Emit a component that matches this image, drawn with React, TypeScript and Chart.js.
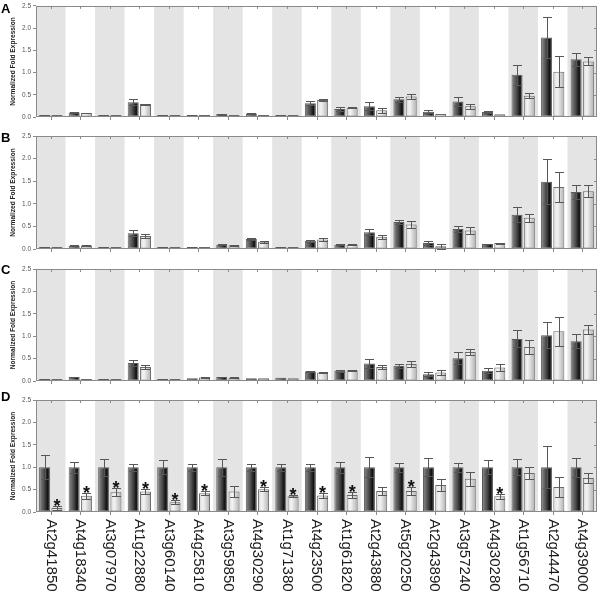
import React, { useEffect, useRef } from 'react';
import { Chart, registerables } from 'chart.js';
Chart.register(...registerables);

const genes = ['At2g41850','At4g18340','At3g07970','At1g22880','At3g60140','At4g25810','At3g59850','At4g30290','At1g71380','At4g23500','At1g61820','At2g43880','At5g20250','At2g43890','At3g57240','At4g30280','At1g56710','At2g44470','At4g39000'];
const yTicks = [0, 0.5, 1.0, 1.5, 2.0, 2.5];
const yTitle = 'Normalized Fold Expression';
const panelLetters = ['A', 'B', 'C', 'D'];

const aDark = [0.01,0.10,0.005,0.33,0.02,0.02,0.065,0.08,0.02,0.31,0.18,0.24,0.40,0.12,0.35,0.11,0.95,1.79,1.30];
const aDarkErr = [0,0.01,0,0.07,0.005,0.005,0.01,0.01,0.005,0.05,0.04,0.09,0.06,0.03,0.10,0.015,0.22,0.47,0.15];
const aLight = [0.01,0.09,0.005,0.29,0.015,0.02,0.03,0.04,0.01,0.38,0.21,0.15,0.46,0.07,0.24,0.06,0.48,1.02,1.25];
const aLightErr = [0,0.01,0,0.01,0.005,0.005,0.005,0.005,0.005,0.03,0.01,0.05,0.05,0.005,0.05,0.005,0.05,0.35,0.09];

const bDark = [0.005,0.07,0.005,0.35,0.02,0.03,0.095,0.22,0.02,0.18,0.095,0.37,0.60,0.13,0.44,0.11,0.76,1.49,1.26];
const bDarkErr = [0,0.01,0,0.07,0.005,0.005,0.01,0.02,0.005,0.02,0.01,0.07,0.05,0.05,0.07,0.01,0.17,0.50,0.16];
const bLight = [0.005,0.08,0.005,0.29,0.02,0.03,0.085,0.16,0.02,0.21,0.095,0.27,0.54,0.06,0.41,0.13,0.69,1.37,1.28];
const bLightErr = [0,0.01,0,0.04,0.005,0.005,0.01,0.02,0.005,0.03,0.01,0.04,0.08,0.05,0.07,0.01,0.09,0.33,0.13];

const cDark = [0.005,0.09,0.02,0.40,0.015,0.06,0.09,0.06,0.075,0.21,0.23,0.39,0.34,0.15,0.51,0.23,0.94,1.02,0.89];
const cDarkErr = [0,0.01,0.005,0.07,0.005,0.005,0.01,0.005,0.005,0.01,0.02,0.10,0.05,0.04,0.14,0.05,0.19,0.29,0.15];
const cLight = [0.005,0.045,0.01,0.31,0.02,0.08,0.075,0.06,0.06,0.19,0.24,0.31,0.38,0.19,0.65,0.30,0.76,1.11,1.15];
const cLightErr = [0,0.005,0,0.04,0.005,0.01,0.015,0.005,0.005,0.01,0.01,0.05,0.07,0.06,0.06,0.07,0.15,0.32,0.10];

const dDark = [1,1,1,1,1,1,1,1,1,1,1,1,1,1,1,1,1,1,1];
const dDarkErr = [0.27,0.12,0.19,0.08,0.16,0.08,0.19,0.08,0.08,0.08,0.12,0.22,0.10,0.20,0.10,0.16,0.18,0.47,0.21];
const dLight = [0.09,0.36,0.44,0.46,0.22,0.42,0.46,0.51,0.35,0.37,0.38,0.47,0.47,0.60,0.74,0.35,0.87,0.56,0.76];
const dLightErr = [0.04,0.06,0.09,0.05,0.05,0.04,0.13,0.05,0.02,0.05,0.06,0.09,0.09,0.14,0.16,0.06,0.13,0.23,0.12];
const dStars = [1,1,1,1,1,1,0,1,1,1,1,0,1,0,0,1,0,0,0];

const FONT = '"Liberation Sans", Arial, sans-serif';
const CAT_PCT = 0.83;
const BAR_PCT = 0.9;

const darkStops: [number, string][] = [[0, '#8e8e8e'], [0.45, '#4c4c4c'], [0.78, '#111111'], [1, '#646464']];
const lightStops: [number, string][] = [[0, '#d6d6d6'], [0.35, '#f4f4f4'], [1, '#b0b0b0']];

function gradientFill(stops: [number, string][], side: number) {
  return (c: any) => {
    const chart = c.chart;
    const area = chart.chartArea;
    const xs = chart.scales && chart.scales.x;
    if (!area || !xs || c.dataIndex === undefined) return stops[1][1];
    const cw = (area.right - area.left) / genes.length;
    const slot = (cw * CAT_PCT) / 2;
    const bw = slot * BAR_PCT;
    const cx = xs.getPixelForValue(c.dataIndex) + side * slot / 2;
    const g = chart.ctx.createLinearGradient(cx - bw / 2, 0, cx + bw / 2, 0);
    stops.forEach(([o, col]) => g.addColorStop(o, col));
    return g;
  };
}

type PanelCfg = {
  letter: string; dark: number[]; darkErr: number[]; light: number[]; lightErr: number[];
  stars?: number[]; canvasTop: number; canvasHeight: number; plotTop: number; plotBottom: number;
  letterBaseline: number; showLabels: boolean;
};

const panels: PanelCfg[] = [
  { letter: panelLetters[0], dark: aDark, darkErr: aDarkErr, light: aLight, lightErr: aLightErr, canvasTop: 0, canvasHeight: 126, plotTop: 4, plotBottom: 117, letterBaseline: 13, showLabels: false },
  { letter: panelLetters[1], dark: bDark, darkErr: bDarkErr, light: bLight, lightErr: bLightErr, canvasTop: 126, canvasHeight: 132, plotTop: 136, plotBottom: 249, letterBaseline: 142, showLabels: false },
  { letter: panelLetters[2], dark: cDark, darkErr: cDarkErr, light: cLight, lightErr: cLightErr, canvasTop: 258, canvasHeight: 130, plotTop: 269, plotBottom: 381, letterBaseline: 274, showLabels: false },
  { letter: panelLetters[3], dark: dDark, darkErr: dDarkErr, light: dLight, lightErr: dLightErr, stars: dStars, canvasTop: 388, canvasHeight: 205, plotTop: 400, plotBottom: 512, letterBaseline: 401, showLabels: true },
];

function makePlugin(p: PanelCfg) {
  const errs = [p.darkErr, p.lightErr];
  return {
    id: 'panelDeco' + p.letter,
    beforeDatasetsDraw(chart: any) {
      const { ctx, chartArea } = chart;
      const { left, right, top, bottom } = chartArea;
      const xs = chart.scales.x;
      const cw = (right - left) / genes.length;
      ctx.save();
      ctx.fillStyle = '#e4e4e4';
      for (let i = 0; i < genes.length; i += 2) {
        const cx = xs.getPixelForValue(i);
        ctx.fillRect(cx - cw / 2, top, cw, bottom - top);
      }
      ctx.restore();
    },
    afterDatasetsDraw(chart: any) {
      const { ctx, chartArea } = chart;
      const { left, right, top, bottom } = chartArea;
      const xs = chart.scales.x;
      const ys = chart.scales.y;
      ctx.save();
      ctx.strokeStyle = '#575757';
      ctx.lineWidth = 1;
      chart.data.datasets.forEach((ds: any, di: number) => {
        const meta = chart.getDatasetMeta(di);
        meta.data.forEach((el: any, i: number) => {
          const v = ds.data[i];
          const e = errs[di][i];
          if (!e || e < 0.008) return;
          const x0 = Math.round(el.x) + 0.5;
          const yT = Math.round(ys.getPixelForValue(v + e)) + 0.5;
          const yB = Math.round(ys.getPixelForValue(Math.max(0, v - e))) + 0.5;
          const cap = 4.5;
          ctx.beginPath();
          ctx.moveTo(x0, yT); ctx.lineTo(x0, yB);
          ctx.moveTo(x0 - cap, yT); ctx.lineTo(x0 + cap, yT);
          ctx.moveTo(x0 - cap, yB); ctx.lineTo(x0 + cap, yB);
          ctx.stroke();
        });
      });
      if (p.stars) {
        const meta = chart.getDatasetMeta(1);
        ctx.fillStyle = '#111';
        ctx.font = 'bold 18px ' + FONT;
        ctx.textAlign = 'center';
        ctx.textBaseline = 'alphabetic';
        p.stars.forEach((s, i) => {
          if (!s) return;
          const el = meta.data[i];
          const yT = ys.getPixelForValue(p.light[i] + p.lightErr[i]);
          ctx.fillText('*', el.x, yT + 6);
        });
      }
      ctx.strokeStyle = '#8a8a8a';
      ctx.lineWidth = 1;
      ctx.strokeRect(Math.round(left) + 0.5, Math.round(top) + 0.5, Math.round(right - left) - 1, Math.round(bottom - top) - 1);
      ctx.beginPath();
      for (let i = 0; i < genes.length; i++) {
        const cx = Math.round(xs.getPixelForValue(i)) + 0.5;
        ctx.moveTo(cx, top); ctx.lineTo(cx, top + 3);
        ctx.moveTo(cx, bottom); ctx.lineTo(cx, bottom + 3);
      }
      yTicks.forEach((t) => {
        if (t === 0 || t === 2.5) return;
        const yy = Math.round(ys.getPixelForValue(t)) + 0.5;
        ctx.moveTo(right, yy); ctx.lineTo(right - 3, yy);
      });
      ctx.stroke();
      ctx.restore();
    },
    afterDraw(chart: any) {
      const { ctx, chartArea } = chart;
      const { top, bottom } = chartArea;
      ctx.save();
      ctx.fillStyle = '#222';
      ctx.font = 'bold 6.6px ' + FONT;
      ctx.textAlign = 'center';
      ctx.textBaseline = 'middle';
      ctx.translate(13, (top + bottom) / 2);
      ctx.rotate(-Math.PI / 2);
      ctx.fillText(yTitle, 0, 0);
      ctx.restore();
      ctx.save();
      ctx.fillStyle = '#000';
      ctx.font = 'bold 13px ' + FONT;
      ctx.textAlign = 'left';
      ctx.textBaseline = 'alphabetic';
      ctx.fillText(p.letter, 1, p.letterBaseline - p.canvasTop);
      ctx.restore();
      if (p.showLabels) {
        const xs = chart.scales.x;
        ctx.save();
        ctx.fillStyle = '#1a1a1a';
        ctx.font = '15px ' + FONT;
        ctx.textAlign = 'left';
        ctx.textBaseline = 'middle';
        genes.forEach((g, i) => {
          const cx = xs.getPixelForValue(i);
          ctx.save();
          ctx.translate(cx, bottom + 7);
          ctx.rotate(Math.PI / 2);
          ctx.fillText(g, 0, 0);
          ctx.restore();
        });
        ctx.restore();
      }
    },
  };
}

function buildChart(canvas: HTMLCanvasElement, p: PanelCfg) {
  const bottomSpace = p.canvasTop + p.canvasHeight - p.plotBottom;
  return new Chart(canvas, {
    type: 'bar',
    data: {
      labels: genes,
      datasets: [
        { data: p.dark, backgroundColor: gradientFill(darkStops, -1), borderColor: '#5a5a5a', borderWidth: 1, borderSkipped: false, minBarLength: 2, barPercentage: BAR_PCT, categoryPercentage: CAT_PCT },
        { data: p.light, backgroundColor: gradientFill(lightStops, 1), borderColor: '#6a6a6a', borderWidth: 1, borderSkipped: false, minBarLength: 2, barPercentage: BAR_PCT, categoryPercentage: CAT_PCT },
      ],
    },
    options: {
      responsive: false,
      animation: false,
      devicePixelRatio: 1,
      layout: { padding: { top: p.plotTop - p.canvasTop, right: 3, bottom: 0, left: 0 } },
      plugins: { legend: { display: false }, tooltip: { enabled: false }, title: { display: false } },
      scales: {
        x: {
          type: 'category',
          offset: true,
          ticks: { display: false },
          grid: { display: false },
          border: { display: false },
          afterFit: (s: any) => { s.height = bottomSpace; },
        },
        y: {
          min: 0,
          max: 2.5,
          stacked: false,
          ticks: { stepSize: 0.5, padding: 2, color: '#555', font: { size: 6.5, family: FONT }, callback: (v: any) => Number(v).toFixed(1) },
          grid: { drawOnChartArea: false, drawTicks: true, tickLength: 3, color: '#8a8a8a' },
          border: { display: false },
          afterFit: (s: any) => { s.width = 36; },
        },
      },
    },
    plugins: [makePlugin(p)],
  } as any);
}

export default function App() {
  const refs = [useRef<HTMLCanvasElement>(null), useRef<HTMLCanvasElement>(null), useRef<HTMLCanvasElement>(null), useRef<HTMLCanvasElement>(null)];
  useEffect(() => {
    const charts = panels.map((p, i) => buildChart(refs[i].current as HTMLCanvasElement, p));
    return () => charts.forEach((c) => c.destroy());
  }, []);
  return (
    <div style={{ position: 'absolute', left: 0, top: 0, width: 600, height: 593, background: '#fff', overflow: 'hidden' }}>
      {panels.map((p, i) => (
        <canvas key={p.letter} ref={refs[i]} width={600} height={p.canvasHeight}
          style={{ position: 'absolute', left: 0, top: p.canvasTop, width: 600, height: p.canvasHeight }} />
      ))}
    </div>
  );
}
